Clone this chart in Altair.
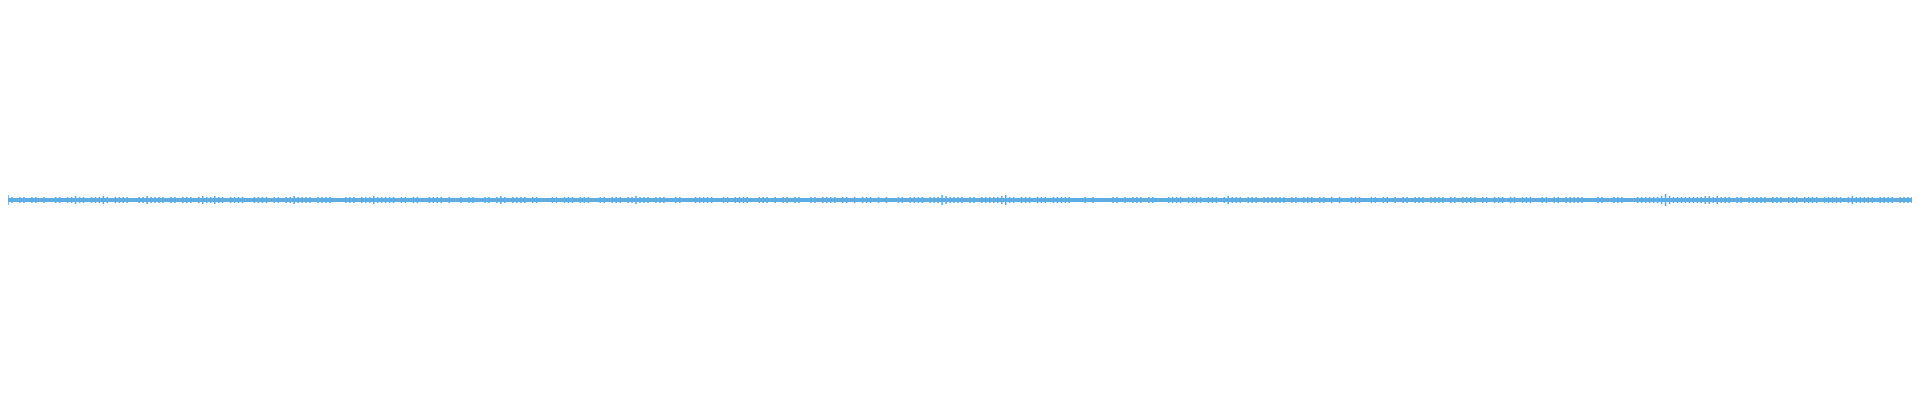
import altair as alt
import pandas as pd

# amplitude (half-height in px units) of the waveform, one value every 4 px of x
amp_q1 = [5,3,2,3,3,2,3,3,2,3, 2,2,3,3,2,3,3,4,3,3, 2,3,3,3,4,3,2,3,3,3, 3,2,2,3,3,4,3,3,3,3,
          2,3,3,2,3,3,3,2,3,4, 3,3,4,3,3,2,3,3,3,3, 2,2,3,3,3,3,2,3,3,2, 3,3,4,3,3,3,3,2,3,3,
          3,3,2,2,2,3,3,3,2,3, 3,3,4,3,3,3,3,3,2,3, 3,2,3,3,2,2,3,3,3,3, 2,3,2,2,3,2,3,3,2,2]
amp_q2 = [3,3,2,3,4,3,2,3,3,3, 3,2,3,3,2,2,2,3,3,2, 3,3,3,2,3,3,3,2,2,3, 3,2,3,3,3,2,3,3,4,3,
          3,3,2,3,3,3,2,2,3,3, 2,2,2,3,3,3,3,3,2,2, 3,3,2,3,3,3,3,2,2,3, 3,3,2,3,2,3,3,2,3,3,
          2,2,3,3,2,3,3,3,3,2, 3,3,2,3,2,3,3,3,2,3, 2,3,2,2,3,3,2,3,3,3, 3,2,3,3,3,5,4,3,3,3]
amp_q3 = [3,2,3,3,2,3,3,3,3,3, 4,5,3,3,2,3,3,3,2,3, 3,3,2,3,3,3,3,3,2,2, 2,3,2,3,2,2,2,2,3,3,
          2,3,2,3,3,3,2,3,3,2, 2,2,3,3,3,3,2,3,3,3, 3,2,3,3,3,2,3,4,3,3, 3,2,3,3,3,2,3,3,3,3,
          3,3,2,3,3,2,3,3,3,2, 3,3,2,3,2,3,2,2,3,3, 3,2,2,3,3,2,3,3,2,3, 2,3,3,2,3,3,3,2,3,3]
amp_q4 = [3,3,2,3,3,2,3,3,3,3, 2,3,3,2,3,3,3,2,3,3, 2,3,3,3,2,2,3,3,2,3, 3,2,3,3,3,3,3,2,2,2,
          3,3,2,2,3,3,3,2,2,2, 3,3,3,3,3,3,4,6,4,3, 3,3,3,3,3,3,3,4,4,3, 4,3,3,3,2,3,3,2,3,3,
          3,3,3,2,3,3,3,2,3,3, 3,2,3,3,3,3,2,3,3,3, 3,3,2,3,4,3,3,3,3,3, 2,3,3,3,3,2,3,3,3,3]

amps = amp_q1 + amp_q2 + amp_q3 + amp_q4
df = pd.DataFrame({"t": [i * 4 for i in range(len(amps))], "amp": amps})

W, H = 1904, 384
COLOR = "#5dade2"

xs = alt.Scale(domain=[0, 1916], nice=False, zero=False)
ys = alt.Scale(domain=[-192, 192], nice=False, zero=False)

ticks = alt.Chart(df).transform_calculate(
    lo="-datum.amp", hi="datum.amp"
).mark_rule(color=COLOR, strokeWidth=1.6).encode(
    x=alt.X("t:Q", scale=xs, axis=None),
    y=alt.Y("lo:Q", scale=ys, axis=None),
    y2="hi:Q",
)

base = alt.Chart(df).mark_line(color=COLOR, strokeWidth=4).encode(
    x=alt.X("t:Q", scale=xs, axis=None),
    y=alt.datum(0, scale=ys) if False else alt.Y("zero:Q", scale=ys, axis=None),
).transform_calculate(zero="0")

chart = alt.layer(base, ticks).properties(
    width=W, height=H, padding=0, autosize=alt.AutoSizeParams(type="none")
).configure_view(stroke=None)

chart.save("out.html", embed_options={"renderer": "svg", "actions": False})
